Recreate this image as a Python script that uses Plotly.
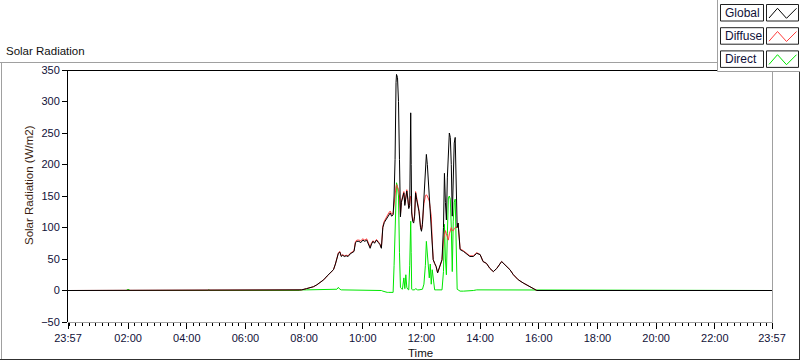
import plotly.graph_objects as go

# ---------------- data ----------------
times = ["23:57", "00:00", "01:57", "01:58", "02:02", "02:03", "04:44", "04:45", "04:46",
         "07:50", "07:55", "08:05", "08:12", "08:19", "08:26", "08:33", "08:40", "08:47",
         "08:54", "09:00", "09:04", "09:07", "09:10", "09:13", "09:16", "09:19", "09:22",
         "09:26", "09:30", "09:34", "09:38", "09:42", "09:45", "09:48", "09:52", "09:56",
         "10:00", "10:04", "10:08", "10:12", "10:15", "10:18", "10:21", "10:24", "10:28",
         "10:32", "10:35", "10:38", "10:41", "10:44", "10:47", "10:50", "10:53", "10:56",
         "10:59", "11:02", "11:04", "11:06", "11:08", "11:09", "11:11", "11:13", "11:15",
         "11:17", "11:19", "11:21", "11:24", "11:26", "11:28", "11:30", "11:32", "11:34",
         "11:36", "11:38", "11:39", "11:40", "11:42", "11:44", "11:46", "11:48", "11:50",
         "11:52", "11:55", "11:58", "12:00", "12:02", "12:05", "12:08", "12:10", "12:12",
         "12:14", "12:16", "12:18", "12:20", "12:22", "12:24", "12:27", "12:30", "12:33",
         "12:36", "12:39", "12:42", "12:45", "12:47", "12:49", "12:51", "12:53", "12:55",
         "12:57", "12:59", "13:01", "13:03", "13:05", "13:07", "13:09", "13:11", "13:13",
         "13:15", "13:17", "13:19", "13:26", "13:33", "13:39", "13:46", "13:53", "14:00",
         "14:06", "14:13", "14:20", "14:27", "14:34", "14:44", "14:54", "15:01", "15:08",
         "15:18", "15:28", "15:42", "15:56", "23:57"]

global_rad = [0, 0, 0, 0, 0, 0, 0, 0, 0,
              0, 1, 3, 4, 6, 9, 13, 17, 23,
              28, 33, 42, 52, 59, 61, 54, 56, 54,
              55, 54, 58, 60, 62, 76, 78, 78, 76,
              80, 78, 80, 72, 67, 74, 78, 75, 80,
              76, 73, 67, 100, 108, 112, 115, 120, 123,
              118, 120, 150, 208, 330, 343, 338, 300, 208,
              117, 140, 148, 155, 135, 150, 158, 145, 130,
              135, 282, 200, 123, 110, 107, 118, 155, 145,
              135, 125, 100, 94, 105, 140, 181, 216, 200,
              175, 155, 135, 118, 80, 49, 43, 38, 28,
              35, 40, 49, 100, 186, 140, 112, 180, 234,
              250, 243, 200, 118, 200, 234, 243, 180, 100,
              107, 80, 65, 62, 57, 54, 54, 59, 57,
              46, 43, 35, 30, 35, 46, 38, 33, 25,
              17, 12, 6, 0, 0]

diffuse_rad = [0, 0, 0, 0, 0, 0, 0, 0, 0,
               0, 1, 3, 4, 6, 9, 13, 17, 23,
               28, 33, 42, 53, 60, 62, 55, 57, 55,
               56, 55, 59, 61, 63, 78, 80, 80, 79,
               82, 80, 82, 74, 69, 76, 79, 76, 81,
               77, 74, 68, 102, 110, 115, 118, 123, 126,
               121, 122, 140, 158, 165, 168, 165, 160, 150,
               120, 142, 150, 157, 138, 152, 160, 148, 132,
               138, 150, 148, 126, 112, 110, 120, 157, 147,
               138, 127, 102, 96, 107, 138, 150, 152, 150,
               145, 142, 130, 118, 80, 49, 43, 38, 28,
               35, 40, 48, 80, 92, 95, 90, 85, 80,
               90, 95, 100, 95, 95, 98, 100, 100, 100,
               107, 80, 66, 63, 58, 55, 55, 60, 57,
               46, 43, 35, 30, 35, 46, 38, 33, 25,
               17, 12, 6, 0, 0]

direct_rad = [0, 0, 0, 1.5, 1.5, 0, 0, 1.5, 0,
              0, 1, 1, 1, 1, 1, 1, 1, 1,
              1, 1, 1, 2, 5, 2, 1, 1, 1,
              1, 1, 1, 1, 1, 1, 1, 1, 1,
              1, 1, 1, 1, 1, 1, 1, 1, 1,
              1, 1, 0, -1, -2, -2, -3, -3, -3,
              -4, -3, 40, 112, 168, 171, 165, 150, 60,
              5, 3, 2, 20, 3, 25, 5, 2, 1,
              40, 110, 60, 2, 1, 1, 1, 3, 2,
              1, 1, 1, 1, 2, 10, 40, 78, 55,
              35, 20, 42, 10, 33, 15, 1, 1, 1,
              1, 1, 1, 30, 105, 50, 25, 90, 147,
              150, 145, 100, 30, 110, 140, 145, 80, 2,
              1, 0, -1, -1, -1, -1, 0, 1, 1,
              1, 1, 1, 1, 1, 1, 1, 1, 1,
              1, 1, 1, 0, 0]

x_tick_labels = ["23:57", "02:00", "04:00", "06:00", "08:00", "10:00", "12:00",
                 "14:00", "16:00", "18:00", "20:00", "22:00", "23:57"]
y_tick_values = [-50, 0, 50, 100, 150, 200, 250, 300, 350]

DAY0 = "2024-05-01 "
DAY1 = "2024-05-02 "
x = [DAY0 + times[0]] + [DAY1 + t for t in times[1:]]
x_tick_vals = [DAY0 + x_tick_labels[0]] + [DAY1 + t for t in x_tick_labels[1:]]

# ---------------- layout helpers ----------------
W, H = 800, 361
ML, MR, MT, MB = 68, 28, 70, 39
PW, PH = W - ML - MR, H - MT - MB


def px(X):
    return (X - ML) / PW


def py(Y):
    return (H - MB - Y) / PH


FONT = "Liberation Sans"
TXT = "#101038"

fig = go.Figure()
series = [("Direct", direct_rad, "#00e600"),
          ("Diffuse", diffuse_rad, "#ff3c3c"),
          ("Global", global_rad, "#000000")]
for name, vals, col in series:
    fig.add_trace(go.Scatter(x=x, y=vals, mode="lines", name=name,
                             line=dict(color=col, width=1), hoverinfo="skip",
                             showlegend=False))

shapes = []


def line(x0, y0, x1, y1, color, width=1, layer="above"):
    shapes.append(dict(type="line", xref="paper", yref="paper",
                       x0=px(x0), y0=py(y0), x1=px(x1), y1=py(y1),
                       line=dict(color=color, width=width), layer=layer))


# outer panel frame
line(0, 62.5, 717, 62.5, "#a0a0a0")
line(1.5, 62.5, 1.5, 359.5, "#a0a0a0")
line(0, 359.5, 800, 359.5, "#303030")
line(799.5, 71, 799.5, 360, "#303030")
# plot frame
line(68, 70.5, 717, 70.5, "#000000")
line(772.5, 71, 772.5, 322.5, "#a0a0a0")
line(68, 322.5, 772.5, 322.5, "#a0a0a0")

# legend panel
shapes.append(dict(type="rect", xref="paper", yref="paper",
                   x0=px(717.5), y0=py(71.5), x1=px(801), y1=py(-1),
                   fillcolor="white", line=dict(width=0), layer="above"))
line(717.5, 0, 717.5, 71.5, "#a0a0a0")
line(717.5, 71.5, 800, 71.5, "#a0a0a0")

legend_rows = [("Global", "#000000"), ("Diffuse", "#ff3c3c"), ("Direct", "#00e600")]
annotations = []
for i, (lab, col) in enumerate(legend_rows):
    dy = i * 23.2
    shapes.append(dict(type="rect", xref="paper", yref="paper",
                       x0=px(720.5), y0=py(4.5 + dy), x1=px(763.5), y1=py(21 + dy),
                       line=dict(color="#202020", width=1), fillcolor="white",
                       layer="above"))
    shapes.append(dict(type="rect", xref="paper", yref="paper",
                       x0=px(766.5), y0=py(4.5 + dy), x1=px(798.5), y1=py(21 + dy),
                       line=dict(color="#202020", width=1), fillcolor="white",
                       layer="above"))
    pts = [(769, 18 + dy), (777.5, 8.3 + dy), (786.5, 18.3 + dy), (796.5, 8.3 + dy)]
    path = "M " + " L ".join(f"{px(a)},{py(b)}" for a, b in pts)
    shapes.append(dict(type="path", xref="paper", yref="paper", path=path,
                       line=dict(color=col, width=1), layer="above"))
    annotations.append(dict(text=lab, xref="paper", yref="paper", x=px(722.5),
                            y=py(12.8 + dy), xanchor="left", yanchor="middle",
                            showarrow=False, font=dict(family=FONT, size=12, color=TXT)))

annotations += [
    dict(text="Solar Radiation", xref="paper", yref="paper", x=px(4), y=py(50.5),
         xanchor="left", yanchor="middle", showarrow=False,
         font=dict(family=FONT, size=11.5, color="#101010")),
    dict(text="Solar Radiation (W/m2)", xref="paper", yref="paper", x=px(29),
         y=py(185), xanchor="center", yanchor="middle", textangle=-90,
         showarrow=False, font=dict(family=FONT, size=11.5, color="#3a1e10")),
    dict(text="Time", xref="paper", yref="paper", x=px(420.5), y=py(353),
         xanchor="center", yanchor="middle", showarrow=False,
         font=dict(family=FONT, size=11.5, color="#101010")),
]

fig.update_layout(
    width=W, height=H,
    margin=dict(l=ML, r=MR, t=MT, b=MB, pad=0),
    paper_bgcolor="white", plot_bgcolor="white",
    font=dict(family=FONT, size=11, color=TXT),
    showlegend=False,
    shapes=shapes, annotations=annotations,
    xaxis=dict(type="date", range=[x_tick_vals[0], x_tick_vals[-1]],
               tickmode="array", tickvals=x_tick_vals, ticktext=x_tick_labels,
               ticks="outside", ticklen=6, tickcolor="#000000", tickwidth=1,
               showgrid=False, zeroline=False, showline=False,
               tickfont=dict(family=FONT, size=11, color=TXT),
               minor=dict(ticks="outside", ticklen=3, tickcolor="#000000",
                          dtick=800000, tick0=DAY1 + "00:00", showgrid=False)),
    yaxis=dict(range=[-50, 350], tickmode="array", tickvals=y_tick_values,
               ticks="outside", ticklen=5, tickcolor="#000000", tickwidth=1,
               showgrid=False, zeroline=False, showline=True,
               linecolor="#000000", linewidth=1,
               tickfont=dict(family=FONT, size=11, color=TXT)),
)

fig.write_html("out.html",
               config={"displayModeBar": False, "staticPlot": True},
               post_script="document.body.style.margin='0';"
                           "document.body.style.overflow='hidden';")
